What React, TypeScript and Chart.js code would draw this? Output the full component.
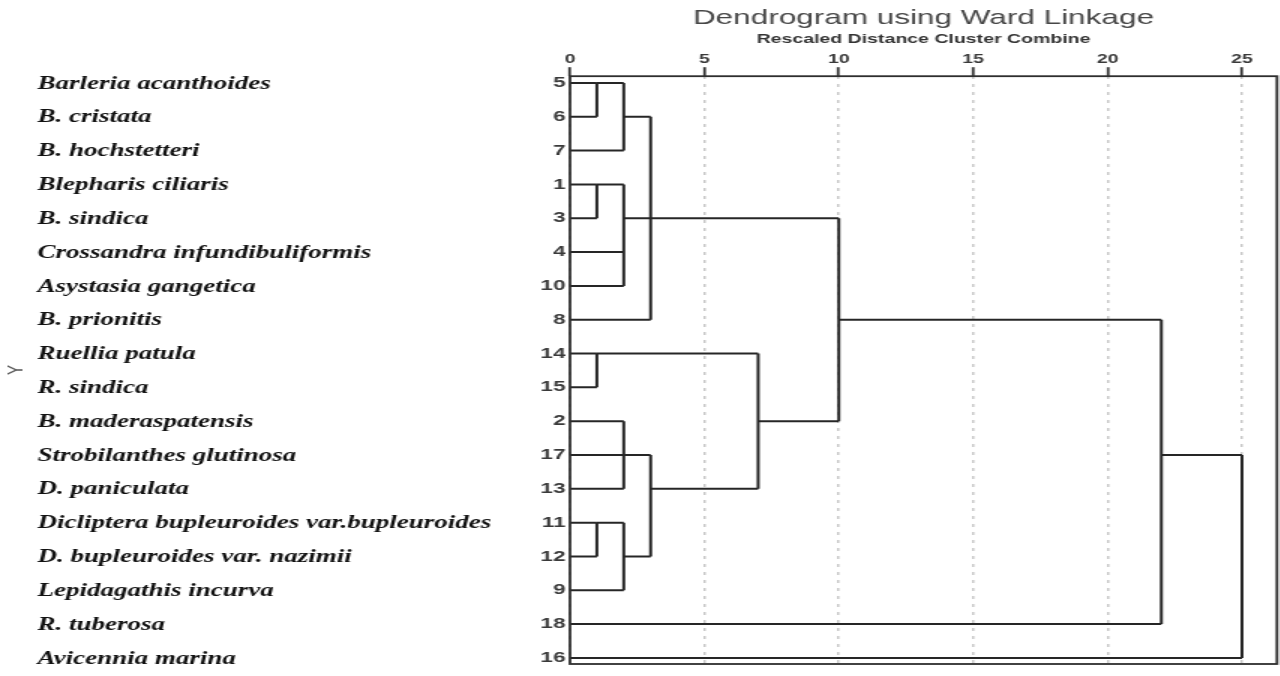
import React, { useEffect, useRef } from "react";
import { Chart, registerables } from "chart.js";

Chart.register(...registerables);

// ---- data ----
const speciesNames = [
  "Barleria acanthoides",
  "B. cristata",
  "B. hochstetteri",
  "Blepharis ciliaris",
  "B. sindica",
  "Crossandra infundibuliformis",
  "Asystasia gangetica",
  "B. prionitis",
  "Ruellia patula",
  "R. sindica",
  "B. maderaspatensis",
  "Strobilanthes glutinosa",
  "D. paniculata",
  "Dicliptera bupleuroides var.bupleuroides",
  "D. bupleuroides var. nazimii",
  "Lepidagathis incurva",
  "R. tuberosa",
  "Avicennia marina",
];
const caseNumbers = [5, 6, 7, 1, 3, 4, 10, 8, 14, 15, 2, 17, 13, 11, 12, 9, 18, 16];
const distanceTicks = [0, 5, 10, 15, 20, 25];
// node ids 0..17 are the leaves (display order); merge k creates node 18 + k
const mergeChildren = [
  [0, 1],
  [18, 2],
  [3, 4],
  [20, 5, 6],
  [19, 21, 7],
  [8, 9],
  [10, 11, 12],
  [13, 14],
  [25, 15],
  [24, 26],
  [23, 27],
  [22, 28],
  [29, 16],
  [30, 17],
];
const mergeDistances = [1, 2, 1, 2, 3, 1, 2, 1, 2, 3, 7, 10, 22, 25];
const mergeRows = [0, 1, 3, 4, 4, 8, 11, 13, 14, 12, 10, 7, 11, 11];

const LEAVES = caseNumbers.length;
const nodeDist = (id: number) => (id < LEAVES ? 0 : mergeDistances[id - LEAVES]);
const nodeRow = (id: number) => (id < LEAVES ? id : mergeRows[id - LEAVES]);

function buildSegments() {
  const segs: { x: number; y: number }[][] = [];
  mergeChildren.forEach((kids, k) => {
    const d = mergeDistances[k];
    const rows = kids.map(nodeRow);
    kids.forEach((c) => {
      segs.push([
        { x: nodeDist(c), y: nodeRow(c) },
        { x: d, y: nodeRow(c) },
      ]);
    });
    segs.push([
      { x: d, y: Math.min(...rows) },
      { x: d, y: Math.max(...rows) },
    ]);
  });
  return segs;
}

const framePlugin = {
  id: "frame",
  afterDatasetsDraw(chart: any) {
    const { ctx, chartArea } = chart;
    ctx.save();
    ctx.strokeStyle = "#2e2e2e";
    ctx.lineWidth = 1.8;
    ctx.strokeRect(chartArea.left, chartArea.top, chartArea.right - chartArea.left, chartArea.bottom - chartArea.top);
    ctx.restore();
  },
};

const speciesPlugin = {
  id: "speciesNames",
  afterDraw(chart: any) {
    const { ctx } = chart;
    const y = chart.scales.y;
    ctx.save();
    ctx.font = 'italic bold 18px "Liberation Serif", "Times New Roman", serif';
    ctx.fillStyle = "#111";
    ctx.textAlign = "left";
    ctx.textBaseline = "middle";
    speciesNames.forEach((name, i) => {
      ctx.fillText(name, 25, y.getPixelForValue(i) + 1);
    });
    ctx.restore();
  },
};

export default function App() {
  const canvasRef = useRef<HTMLCanvasElement | null>(null);

  useEffect(() => {
    if (!canvasRef.current) return;
    const segments = buildSegments();
    const chart = new Chart(canvasRef.current, {
      type: "scatter",
      data: {
        datasets: segments.map((seg) => ({
          data: seg,
          showLine: true,
          borderColor: "#262626",
          borderWidth: 2,
          pointRadius: 0,
          pointHoverRadius: 0,
          fill: false,
          tension: 0,
        })),
      },
      options: {
        animation: false,
        responsive: true,
        maintainAspectRatio: false,
        events: [],
        layout: { padding: { left: 0, right: 2, top: 0, bottom: 6 } },
        plugins: {
          legend: { display: false },
          tooltip: { enabled: false },
          title: {
            display: true,
            text: "Dendrogram using Ward Linkage",
            fullSize: false,
            color: "#474747",
            font: { family: "Arial, 'Liberation Sans', sans-serif", size: 21, weight: "normal" },
            padding: { top: 6, bottom: 0 },
          },
        },
        scales: {
          x: {
            type: "linear",
            position: "top",
            min: 0,
            max: 26.3,
            afterBuildTicks: (s: any) => {
              s.ticks = distanceTicks.map((v) => ({ value: v }));
            },
            afterFit: (s: any) => {
              s.height = 45;
            },
            ticks: {
              color: "#3a3a3a",
              font: { family: "Arial, 'Liberation Sans', sans-serif", size: 13, weight: "bold" },
              padding: 0,
              maxRotation: 0,
            },
            grid: {
              display: true,
              drawOnChartArea: true,
              drawTicks: true,
              tickLength: 9,
              tickColor: "#333",
              tickWidth: 1.8,
              color: "#c8c8c8",
              lineWidth: 1.5,
            },
            border: { display: false, dash: [3, 5] },
            title: {
              display: true,
              text: "Rescaled Distance Cluster Combine",
              color: "#333",
              font: { family: "Arial, 'Liberation Sans', sans-serif", size: 13, weight: "bold" },
              padding: { top: 0, bottom: 0 },
            },
          },
          y: {
            type: "linear",
            position: "left",
            reverse: true,
            min: -0.2,
            max: 17.18,
            afterBuildTicks: (s: any) => {
              s.ticks = caseNumbers.map((_, i) => ({ value: i }));
            },
            afterFit: (s: any) => {
              s.width = 380;
            },
            ticks: {
              color: "#3a3a3a",
              font: { family: "Arial, 'Liberation Sans', sans-serif", size: 15, weight: "bold" },
              padding: 3,
              callback: (v: any) => String(caseNumbers[v as number] ?? ""),
            },
            grid: { display: false, drawTicks: false },
            border: { display: false },
            title: {
              display: true,
              text: "Y",
              color: "#555",
              font: { family: "Arial, 'Liberation Sans', sans-serif", size: 15 },
              padding: { top: 2, bottom: 0 },
            },
          },
        },
      } as any,
      plugins: [framePlugin, speciesPlugin],
    });
    return () => chart.destroy();
  }, []);

  return (
    <div
      style={{
        position: "fixed",
        left: 0,
        top: 0,
        width: "1280px",
        height: "676px",
        overflow: "hidden",
        background: "#fff",
      }}
    >
      <div
        style={{
          width: "853.33px",
          height: "676px",
          transform: "scaleX(1.5)",
          transformOrigin: "0 0",
        }}
      >
        <canvas ref={canvasRef} />
      </div>
    </div>
  );
}
